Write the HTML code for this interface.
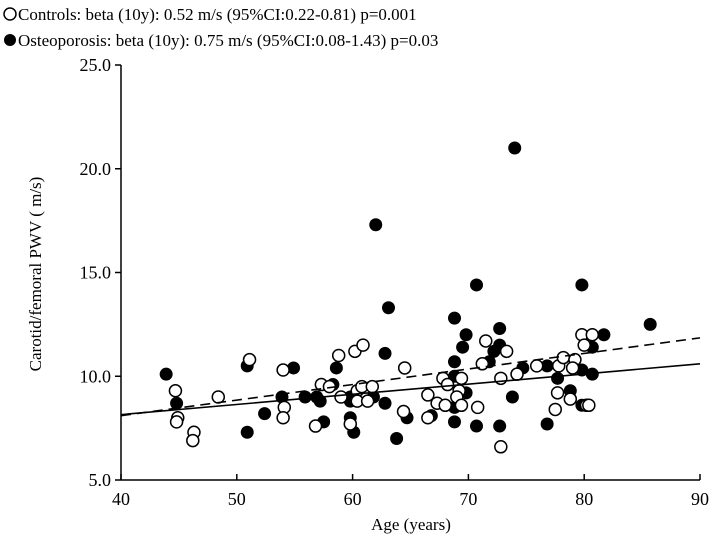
<!DOCTYPE html>
<html><head><meta charset="utf-8"><style>
body{margin:0;background:#fff}
svg{display:block;font-family:"Liberation Serif",serif}
</style></head><body>
<svg id="chart" width="710" height="544" viewBox="0 0 710 544">
<g id="legend">
<g><circle cx="10" cy="14" r="6" fill="#fff" stroke="#000" stroke-width="1.5"/><text x="18" y="20" font-size="17">Controls: beta (10y): 0.52 m/s (95%CI:0.22-0.81) p=0.001</text></g>
<g><circle cx="10" cy="40" r="6" fill="#000"/><text x="18" y="46" font-size="17">Osteoporosis: beta (10y): 0.75 m/s (95%CI:0.08-1.43) p=0.03</text></g>
</g>
<g id="axes"></g>
<g id="marks"></g>
<text x="411" y="530" font-size="17" text-anchor="middle">Age (years)</text>
<text transform="translate(41,274) rotate(-90)" font-size="17" text-anchor="middle">Carotid/femoral PWV ( m/s)</text>
</svg>
<script>
const xTicks=[40,50,60,70,80,90];
const yTicks=[5,10,15,20,25];
const yTickLabels=["5.0","10.0","15.0","20.0","25.0"];
const controlsAge=[44.7,44.9,44.8,46.3,46.2,48.4,51.1,54.0,54.1,54.0,57.3,58.0,56.8,58.8,60.2,60.9,59.0,59.8,60.4,60.8,60.4,61.3,61.7,64.5,64.4,66.5,66.5,67.3,68.0,67.8,68.2,69.4,69.2,69.0,69.4,70.8,71.5,71.2,73.3,72.8,72.8,74.2,75.9,77.8,78.2,79.2,79.0,77.7,78.8,77.5,79.8,80.7,80.0,80.2,80.4];
const controlsPWV=[9.3,8.0,7.8,7.3,6.9,9.0,10.8,10.3,8.5,8.0,9.6,9.5,7.6,11.0,11.2,11.5,9.0,7.7,9.3,9.5,8.8,8.8,9.5,10.4,8.3,9.1,8.0,8.7,8.6,9.9,9.6,9.9,9.3,9.0,8.6,8.5,11.7,10.6,11.2,9.9,6.6,10.1,10.5,10.5,10.9,10.8,10.4,9.2,8.9,8.4,12.0,12.0,11.5,8.6,8.6];
const osteoAge=[43.9,44.8,50.9,50.9,52.4,53.9,54.9,55.9,56.9,57.2,57.5,58.6,58.3,59.8,59.8,59.8,60.1,62.0,62.8,63.1,62.8,63.8,61.8,64.7,66.8,70.7,79.8,74.0,68.8,69.8,69.5,68.8,68.8,69.8,68.8,68.8,70.7,72.7,72.7,72.2,71.8,72.7,73.8,74.7,76.8,76.8,77.7,78.8,79.8,80.7,80.7,81.7,79.8,85.7];
const osteoPWV=[10.1,8.7,10.5,7.3,8.2,9.0,10.4,9.0,9.0,8.8,7.8,10.4,9.6,9.0,8.8,8.0,7.3,17.3,11.1,13.3,8.7,7.0,9.0,8.0,8.1,14.4,14.4,21.0,12.8,12.0,11.4,10.7,10.0,9.2,8.5,7.8,7.6,12.3,11.5,11.2,10.7,7.6,9.0,10.4,10.5,7.7,9.9,9.3,10.3,10.1,11.4,12.0,8.6,12.5];
const controlsFit=[8.15,10.6];
const osteoFit=[8.1,11.85];
const fitAges=[40,90];
const X0=121,X1=700,Y0=480,Y1=65;
const sx=v=>X0+(v-40)/50*(X1-X0);
const sy=v=>Y0-(v-5)/20*(Y0-Y1);
const NS="http://www.w3.org/2000/svg";
const ax=document.getElementById('axes'),mk=document.getElementById('marks');
function el(t,a,p){const e=document.createElementNS(NS,t);for(const k in a)e.setAttribute(k,a[k]);p.appendChild(e);return e;}
let l=el('line',{x1:X0,y1:Y0,x2:X1,y2:Y0,stroke:'#000','stroke-width':1.5},ax);


l=el('line',{x1:X0,y1:Y0,x2:X0,y2:Y1,stroke:'#000','stroke-width':1.5},ax);


xTicks.forEach(v=>{
  el('line',{x1:sx(v),y1:Y0,x2:sx(v),y2:Y0-6,stroke:'#000','stroke-width':1.5},ax);
  const t=el('text',{x:sx(v),y:Y0+25,'font-size':18,'text-anchor':'middle'},ax);t.textContent=v;
  
  
});
yTicks.forEach((v,i)=>{
  el('line',{x1:X0-6,y1:sy(v),x2:X0,y2:sy(v),stroke:'#000','stroke-width':1.5},ax);
  const t=el('text',{x:X0-10,y:sy(v)+6,'font-size':18,'text-anchor':'end'},ax);t.textContent=yTickLabels[i];
  
  
});
osteoAge.forEach((a,i)=>{
  const c=el('circle',{cx:sx(a),cy:sy(osteoPWV[i]),r:6.5,fill:'#000'},mk);
  
  
});
controlsAge.forEach((a,i)=>{
  const c=el('circle',{cx:sx(a),cy:sy(controlsPWV[i]),r:6,fill:'#fff',stroke:'#000','stroke-width':1.5},mk);
  
  
});
let f=el('line',{x1:sx(fitAges[0]),y1:sy(controlsFit[0]),x2:sx(fitAges[1]),y2:sy(controlsFit[1]),stroke:'#000','stroke-width':1.6},mk);


f=el('line',{x1:sx(fitAges[0]),y1:sy(osteoFit[0]),x2:sx(fitAges[1]),y2:sy(osteoFit[1]),stroke:'#000','stroke-width':1.6,'stroke-dasharray':'10,6'},mk);


</script>
</body></html>
